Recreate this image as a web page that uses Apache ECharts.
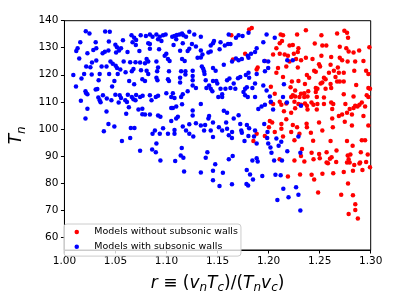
<!DOCTYPE html>
<html><head><meta charset="utf-8">
<script src="https://cdn.jsdelivr.net/npm/echarts@6/dist/echarts.min.js"></script>
<style>html,body{margin:0;padding:0;background:#fff}#c{width:399px;height:299px}</style>
</head><body><div id="c"></div>
<script>
const xTicks = [1.00, 1.05, 1.10, 1.15, 1.20, 1.25, 1.30];
const yTicks = [60, 70, 80, 90, 100, 110, 120, 130, 140];
const seriesNames = ['Models without subsonic walls', 'Models with subsonic walls'];

const redPoints = [
[1.1835,137.3],[1.1809,136.7],[1.1635,134.6],[1.1770,127.8],[1.1964,125.1],[1.1893,122.7],[1.1883,121.9],
[1.2118,134.9],[1.2141,134.6],[1.2279,134.9],[1.2131,132.5],[1.2109,131.7],[1.2076,129.8],[1.2205,130.8],
[1.2237,131.0],[1.2292,129.8],[1.2044,127.5],[1.2109,127.8],[1.2157,127.5],[1.2189,127.0],[1.2247,127.8],
[1.2286,128.4],[1.2205,124.9],[1.2269,125.8],[1.2318,125.4],[1.2173,123.1],[1.2092,122.5],[1.2286,122.7],
[1.2076,120.7],[1.2141,119.2],[1.2228,117.5],[1.2292,117.7],[1.2215,115.4],[1.2260,114.2],[1.2022,115.6],
[1.2060,113.0],[1.2022,109.7],[1.2044,109.2],[1.2109,110.0],[1.2125,108.9],[1.2173,109.4],[1.2237,112.4],
[1.2221,111.8],[1.2260,112.0],[1.2302,111.8],[1.2253,110.0],[1.2292,109.2],[1.2318,108.9],[1.2260,107.6],
[1.2221,105.9],[1.2150,106.5],[1.2012,102.9],[1.2035,102.3],[1.2003,100.6],[1.2125,101.8],[1.2125,100.0],
[1.2237,101.4],[1.2279,100.6],[1.2173,103.5],[1.1883,98.2],[1.2060,98.8],[1.2221,98.8],[1.2302,98.2],
[1.1651,125.6],
[1.2365,136.5],[1.2517,134.6],[1.2671,135.3],[1.2742,136.3],[1.2768,135.5],[1.2778,133.7],[1.2452,131.6],
[1.2526,130.8],[1.2565,130.8],[1.2697,130.4],[1.2761,129.8],[1.2784,128.6],[1.2832,128.2],[1.2887,129.0],
[1.2987,130.2],[1.2365,126.3],[1.2430,125.8],[1.2517,127.0],[1.2613,126.6],[1.2697,126.3],[1.2720,125.4],
[1.2494,123.9],[1.2504,123.1],[1.2607,123.7],[1.2774,124.9],[1.2848,124.9],[1.2929,125.1],[1.2446,121.5],
[1.2462,121.1],[1.2591,120.7],[1.2639,121.5],[1.2678,122.7],[1.2688,120.7],[1.2736,120.7],[1.2839,121.5],
[1.2955,121.5],[1.2977,120.3],[1.2375,119.9],[1.2397,118.9],[1.2542,118.9],[1.2558,118.3],[1.2655,119.2],
[1.2671,117.5],[1.2697,117.5],[1.2736,117.5],[1.2356,116.6],[1.2462,115.1],[1.2478,114.8],[1.2510,116.8],
[1.2526,117.1],[1.2558,114.8],[1.2607,116.6],[1.2613,115.1],[1.2858,116.2],[1.2977,115.1],[1.2993,114.8],
[1.2317,113.0],[1.2349,113.2],[1.2388,113.9],[1.2462,113.6],[1.2349,111.8],[1.2381,112.0],[1.2472,111.8],
[1.2542,111.6],[1.2736,112.8],[1.2832,112.0],[1.2961,112.4],[1.2977,111.8],[1.2356,109.4],[1.2375,108.5],
[1.2420,109.7],[1.2439,108.9],[1.2478,109.2],[1.2542,109.2],[1.2613,109.7],[1.2633,109.2],[1.2752,109.2],
[1.2832,107.7],[1.2871,108.3],[1.2848,108.5],[1.2890,108.9],[1.2913,109.7],[1.2945,108.3],[1.2794,107.3],
[1.2768,105.9],[1.2720,105.3],[1.2688,104.7],[1.2746,102.6],[1.2381,107.1],[1.2472,107.1],[1.2623,107.3],
[1.2816,105.3],[1.2929,104.7],[1.2372,101.9],[1.2375,100.6],[1.2494,102.3],[1.2623,103.8],[1.2629,100.6],
[1.2414,98.5],[1.2526,99.4],[1.2816,101.2],[1.2977,101.2],
[1.2253,95.8],[1.2317,89.9],[1.2253,88.3],[1.2189,82.4],[1.2308,83.1],[1.2108,88.7],[1.1851,95.5],
[1.1963,97.3],[1.2141,97.2],
[1.2436,95.6],[1.2607,95.5],[1.2768,95.5],[1.2913,95.8],[1.2945,95.8],[1.2823,93.7],[1.2327,92.5],
[1.2421,91.1],[1.2495,90.7],[1.2568,91.3],[1.2665,92.0],[1.2601,88.9],[1.2617,89.5],[1.2440,88.7],
[1.2501,89.1],[1.2350,87.9],[1.2568,87.5],[1.2581,87.3],[1.2662,87.7],[1.2775,90.1],[1.2801,90.5],
[1.2784,88.7],[1.2768,87.5],[1.2794,87.5],[1.2839,86.6],[1.2903,91.3],[1.2971,90.5],[1.2955,87.7],
[1.2897,87.5],[1.2890,87.2],[1.2993,85.8],[1.2826,84.5],[1.2919,84.8],[1.2736,84.0],[1.2633,83.6],
[1.2527,83.4],[1.2421,83.0],[1.2446,81.2],[1.2778,79.8],[1.2485,76.4],[1.2711,75.6],[1.2826,75.4],
[1.2849,72.1],[1.2849,70.0],[1.2784,68.5],[1.2874,66.8]
];

const bluePoints = [
[1.0209,136.1],[1.0245,135.3],[1.0399,136.0],[1.0444,135.9],[1.0155,132.0],[1.0129,129.8],[1.0116,128.8],
[1.0306,132.0],[1.0435,132.3],[1.0499,131.1],[1.0515,130.2],[1.0283,129.2],[1.0312,129.8],[1.0374,128.0],
[1.0396,128.5],[1.0431,129.0],[1.0225,128.0],[1.0573,132.8],[1.0554,129.8],[1.0535,129.0],[1.0506,128.2],
[1.0657,134.6],[1.0683,133.7],[1.0702,132.9],[1.0667,132.0],[1.0699,131.0],[1.0747,134.6],[1.0618,128.4],
[1.0734,128.8],[1.0145,126.0],[1.0270,124.5],[1.0312,125.3],[1.0213,123.1],[1.0254,122.8],[1.0364,123.1],
[1.0412,123.1],[1.0451,124.9],[1.0473,124.1],[1.0502,123.3],[1.0515,122.5],[1.0547,121.9],[1.0580,124.9],
[1.0644,124.6],[1.0696,124.6],[1.0741,124.5],[1.0599,120.9],[1.0660,121.3],[1.0676,122.1],[1.0750,121.7],
[1.0087,119.9],[1.0167,118.6],[1.0193,120.3],[1.0267,120.1],[1.0345,120.3],[1.0438,120.3],[1.0522,120.3],
[1.0335,118.0],[1.0489,117.7],[1.0634,117.7],[1.0683,116.5],[1.0113,115.7],[1.0306,114.5],[1.0322,114.7],
[1.0467,115.7],[1.0763,118.3],[1.0206,113.9],[1.0213,113.2],[1.0225,112.8],[1.0161,110.4],[1.0332,111.6],
[1.0345,110.6],[1.0354,109.8],[1.0377,112.4],[1.0415,111.2],[1.0460,110.6],[1.0499,112.6],[1.0541,112.4],
[1.0554,111.4],[1.0531,109.7],[1.0596,110.6],[1.0621,112.6],[1.0660,111.8],[1.0676,110.9],[1.0702,112.5],
[1.0741,111.8],[1.0766,112.2],[1.0696,110.6],[1.0725,107.1],[1.0763,107.4],[1.0631,108.0],[1.0612,109.9],
[1.0225,107.4],[1.0412,106.4],[1.0605,105.6],[1.0206,103.8],[1.0431,101.8],[1.0489,100.9],[1.0386,99.1],
[1.0650,100.3],[1.0686,100.3],[1.0763,105.4],
[1.0563,95.5],[1.0644,96.6],[1.0741,91.9],[1.0859,92.3],[1.0895,91.3],[1.0901,94.6],[1.0940,88.3],
[1.1085,88.1],[1.1149,92.9],[1.1139,90.1],[1.1165,89.3],[1.1172,84.2],[1.1262,97.2],[1.1336,83.8],
[1.1384,89.3],[1.1400,91.3],[1.1455,84.5],[1.1477,86.9],[1.1455,81.0],[1.1519,78.8],[1.1455,97.0],
[1.1552,83.7],[1.1610,88.7],[1.1648,89.9],[1.1641,79.5],[1.1786,84.8],[1.1818,83.1],[1.1841,88.3],
[1.1847,81.2],[1.1883,89.1],[1.1893,87.9],[1.1938,82.5],[1.1783,79.6],[1.1799,79.0],[1.2054,88.3],
[1.2067,83.0],[1.2118,82.8],[1.2131,88.3],[1.2018,93.1],[1.2028,91.1],[1.2098,93.7],[1.2183,91.7],
[1.2311,91.1],[1.2269,78.4],[1.2292,75.6],[1.2195,74.7],[1.2086,73.7],[1.2144,77.8],[1.2311,69.8],
[1.1610,97.6],[1.1641,96.6],[1.1764,95.5],[1.1802,97.3],[1.1857,97.2],[1.1883,94.6],[1.1986,96.6],
[1.1996,94.6],[1.2076,96.4],[1.2124,95.2],[1.2292,97.2],
[1.0798,134.3],[1.0837,134.9],[1.0863,134.1],[1.0901,134.9],[1.0934,134.1],[1.0966,134.6],[1.0991,134.9],
[1.0917,133.1],[1.0950,132.5],[1.0821,131.7],[1.0837,131.4],[1.1056,134.1],[1.1078,134.3],[1.1101,134.7],
[1.1127,134.9],[1.1152,135.3],[1.1165,134.6],[1.1191,134.1],[1.1223,135.9],[1.1272,134.9],[1.1336,134.1],
[1.1095,133.1],[1.1069,131.0],[1.1159,131.7],[1.1249,131.4],[1.1288,130.5],[1.1223,129.6],[1.1336,129.0],
[1.1433,130.8],[1.1465,132.5],[1.1455,131.7],[1.1529,132.0],[1.1520,129.4],[1.1410,128.2],[1.1433,128.6],
[1.1352,127.5],[1.1336,126.4],[1.1304,126.3],[1.1133,128.9],[1.1207,128.8],[1.1152,125.8],[1.1178,125.1],
[1.0998,127.8],[1.0982,127.0],[1.1014,125.8],[1.1030,125.1],[1.0927,129.4],[1.0901,124.9],[1.0805,125.8],
[1.0821,124.9],[1.0837,129.6],[1.0789,124.3],[1.0917,122.7],[1.0908,121.3],[1.0805,121.5],[1.0789,117.7],
[1.0821,120.3],[1.0901,118.9],[1.0911,118.0],[1.1024,121.3],[1.1014,118.3],[1.1024,117.7],[1.1143,121.3],
[1.1133,118.9],[1.1133,117.1],[1.1185,121.3],[1.1185,120.1],[1.1256,121.5],[1.1256,119.5],[1.1256,118.0],
[1.1256,116.0],[1.1346,123.1],[1.1359,122.2],[1.1368,121.3],[1.1372,120.3],[1.1455,122.5],[1.1481,121.5],
[1.1455,117.7],[1.1384,118.0],[1.1391,115.1],[1.1417,116.0],[1.1433,114.8],[1.1449,113.9],[1.1487,117.7],
[1.1497,116.8],[1.1529,114.8],[1.1507,111.8],[1.1545,111.8],[1.1288,115.1],[1.1207,113.9],[1.1159,112.8],
[1.1143,111.8],[1.1062,113.2],[1.1078,111.4],[1.1046,111.8],[1.0998,113.2],[1.0917,112.2],[1.0895,111.8],
[1.0837,112.4],[1.0853,110.6],[1.0789,105.3],[1.0837,105.3],[1.0917,104.9],[1.0940,104.5],[1.1046,107.7],
[1.1062,107.7],[1.1095,108.3],[1.1152,109.1],[1.1256,106.8],[1.1256,104.9],[1.1223,101.7],[1.1159,100.9],
[1.1095,103.8],[1.1111,104.5],[1.1046,102.9],[1.0966,100.2],[1.0886,99.4],[1.0863,98.2],[1.0934,98.2],
[1.1014,98.2],[1.1078,98.2],[1.1078,99.6],[1.1191,99.4],[1.1223,98.2],[1.1288,102.1],[1.1336,101.2],
[1.1378,101.4],[1.1410,103.8],[1.1417,104.7],[1.1368,99.4],[1.1433,99.4],[1.1455,102.3],[1.1513,100.6],
[1.1545,99.4],[1.1336,109.2],[1.1545,112.8],
[1.1609,134.9],[1.1680,133.7],[1.1706,134.6],[1.1745,134.3],[1.1803,135.5],[1.1603,131.4],[1.1571,130.8],
[1.1626,131.4],[1.1980,134.9],[1.1948,132.0],[1.2060,133.7],[1.1883,129.8],[1.1867,128.4],[1.1828,127.8],
[1.1796,127.0],[1.1803,126.3],[1.1738,125.8],[1.1706,125.4],[1.1642,124.9],[1.1680,126.0],[1.1561,123.7],
[1.1957,125.1],[1.1996,124.9],[1.2183,125.4],[1.2237,125.4],[1.1996,122.5],[1.1964,121.3],[1.1883,120.3],
[1.1803,120.7],[1.1777,119.9],[1.1809,118.9],[1.1722,119.2],[1.1700,118.7],[1.1616,118.6],[1.1593,118.0],
[1.1658,116.8],[1.1674,114.8],[1.1626,115.1],[1.1577,114.8],[1.1787,115.4],[1.1770,114.8],[1.1754,113.6],
[1.1867,116.8],[1.1841,115.1],[1.1948,116.0],[1.1980,114.2],[1.2012,112.0],[1.1867,111.8],[1.1770,112.4],
[1.1796,111.8],[1.1931,108.3],[1.1964,108.9],[1.1899,107.3],[1.2044,107.1],[1.2022,110.0],[1.2179,109.7],
[1.1561,106.7],[1.1593,105.9],[1.1706,105.0],[1.1658,103.8],[1.1584,102.3],[1.1593,100.0],[1.1642,98.8],
[1.1722,101.8],[1.1787,101.4],[1.1809,100.2],[1.1732,99.4],[1.1738,98.5],[1.1957,101.8],[1.1867,99.4],
[1.1989,98.8],[1.2150,116.5],[1.2141,111.8],[1.2317,108.5]
];

const chart = echarts.init(document.getElementById('c'), null, {renderer: 'canvas'});
const FONT = 'DejaVu Sans';
chart.setOption({
  animation: false,
  backgroundColor: '#fff',
  grid: {left: 60, right: 28.3, top: 20.7, bottom: 39.7, show: true, borderColor: '#000', borderWidth: 1, backgroundColor: 'transparent'},
  legend: {
    data: seriesNames,
    orient: 'vertical',
    left: 64, top: 224,
    icon: 'circle',
    itemWidth: 25, itemHeight: 4.5,
    itemGap: 0,
    padding: [0.5, 3, 2, 10.5],
    backgroundColor: 'rgba(255,255,255,0.8)',
    borderColor: '#cccccc', borderWidth: 1, borderRadius: 3,
    textStyle: {fontFamily: FONT, fontSize: 9.5, color: '#000', lineHeight: 14.8}
  },
  xAxis: {
    type: 'value', min: 1.0, max: 1.3, interval: 0.05,
    axisLine: {show: true, lineStyle: {color: '#000', width: 1}},
    axisTick: {show: true, length: 3.5, inside: false, lineStyle: {color: '#000'}},
    axisLabel: {fontFamily: FONT, fontSize: 10.5, color: '#000', margin: 5.5,
      formatter: v => v.toFixed(2)},
    splitLine: {show: false},
    name: '{i|r}{u| ≡ (}{i|v}{s|n}{i|T}{s|c}{u|)/(}{i|T}{s|n}{i|v}{s|c}{u|)}',
    nameLocation: 'middle', nameGap: 24,
    nameTextStyle: {
      rich: {
        i: {fontFamily: FONT, fontStyle: 'italic', fontSize: 17, color: '#000', lineHeight: 20, verticalAlign: 'middle'},
        u: {fontFamily: FONT, fontSize: 17, color: '#000', lineHeight: 20, verticalAlign: 'middle'},
        s: {fontFamily: FONT, fontStyle: 'italic', fontSize: 12, color: '#000', lineHeight: 11, verticalAlign: 'bottom'}
      }
    }
  },
  yAxis: {
    type: 'value', min: 55.16, max: 140,
    axisLine: {show: true, lineStyle: {color: '#000', width: 1}},
    axisTick: {show: true, length: 3.5, inside: false, lineStyle: {color: '#000'}, customValues: yTicks},
    axisLabel: {fontFamily: FONT, fontSize: 10.5, color: '#000', margin: 6, customValues: yTicks},
    splitLine: {show: false},
    name: '{i|T}{s|n}',
    nameLocation: 'middle', nameGap: 27, nameRotate: 90,
    nameTextStyle: {
      rich: {
        i: {fontFamily: FONT, fontStyle: 'italic', fontSize: 17, color: '#000', lineHeight: 22, verticalAlign: 'middle'},
        s: {fontFamily: FONT, fontStyle: 'italic', fontSize: 12, color: '#000', lineHeight: 12, verticalAlign: 'bottom'}
      }
    }
  },
  series: [
    {name: seriesNames[0], type: 'scatter', data: redPoints, symbol: 'circle', symbolSize: 4.5,
     itemStyle: {color: '#ff0000', opacity: 1}, emphasis: {disabled: true}},
    {name: seriesNames[1], type: 'scatter', data: bluePoints, symbol: 'circle', symbolSize: 4.5,
     itemStyle: {color: '#0000ff', opacity: 1}, emphasis: {disabled: true}}
  ]
});
</script>
</body></html>
